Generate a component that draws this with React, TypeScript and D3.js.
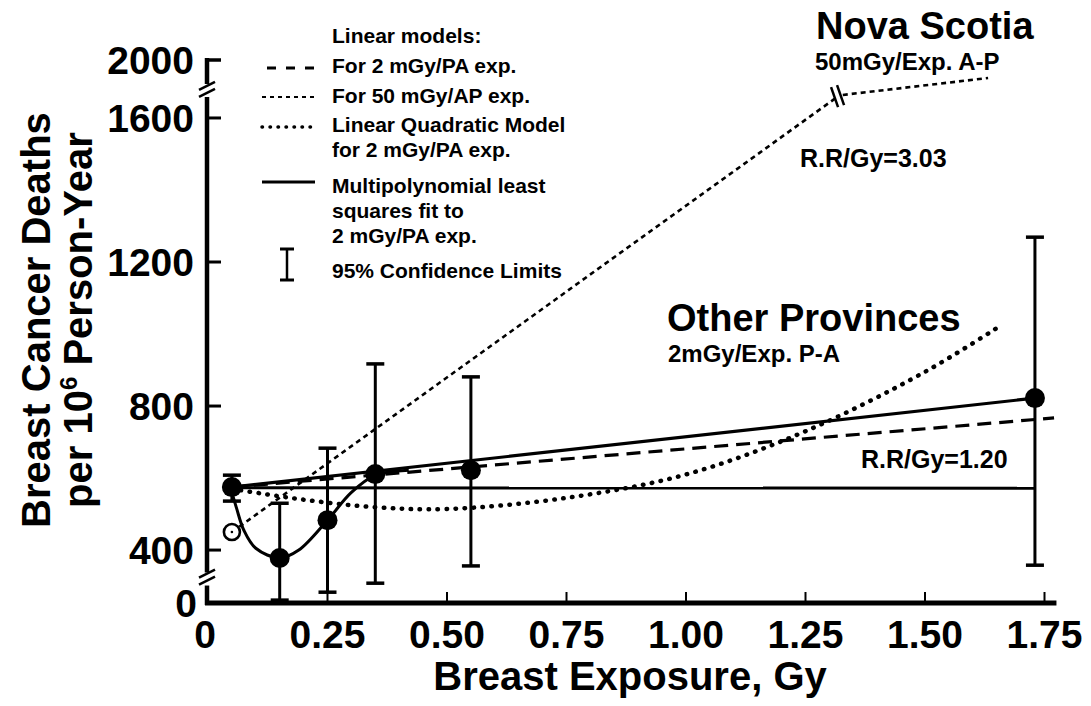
import React from 'react';
import * as d3 from 'd3';

// observed points (filled circles) with 95% limits
const doses = [0.05, 0.15, 0.25, 0.35, 0.55, 1.73];
const deathRates = [575, 378, 483, 611, 622, 822];
const ciLower = [536, 261, 283, 308, 356, 358];
const ciUpper = [608, 530, 683, 917, 881, 1269];

// Nova Scotia unexposed point (open circle)
const novaDose = [0.05];
const novaRate = [450];

// horizontal control line
const controlDoses = [0.05, 1.73];
const controlRates = [573, 572];

// straight solid line through the points
const solidFitDoses = [0.05, 1.73];
const solidFitRates = [575, 822];

// linear model, 2 mGy/PA exp.
const lin2Doses = [0.05, 1.77];
const lin2Rates = [575, 767];

// linear model, 50 mGy/AP exp. (broken near the top)
const lin50Doses = [0.05, 1.316];
const lin50Rates = [450, 1658];
const lin50UpperDoses = [1.328, 1.632];
const lin50UpperRates = [1664, 1711];

// linear quadratic model
const lqDoses = [0.05, 0.2, 0.35, 0.5, 0.75, 1.0, 1.25, 1.5, 1.66];
const lqRates = [570, 540, 519, 514, 545, 610, 730, 895, 1025];

// multipolynomial least squares fit
const polyDoses = [0.05, 0.06, 0.075, 0.1, 0.15, 0.19, 0.25, 0.3, 0.35, 0.42];
const polyRates = [560, 515, 455, 405, 378, 400, 483, 560, 608, 622];

const xTicks = [0, 0.25, 0.5, 0.75, 1.0, 1.25, 1.5, 1.75];
const xTickLabels = ['0', '0.25', '0.50', '0.75', '1.00', '1.25', '1.50', '1.75'];
const yTicks = [400, 800, 1200, 1600];
const yBreakLabels = ['0', '2000'];

const W = 1091;
const H = 706;
const FONT = '"Liberation Sans", Arial, Helvetica, sans-serif';

export default function App() {
  const x = d3.scaleLinear().domain([0, 1.75]).range([208, 1044.5]);
  const y = d3.scaleLinear().domain([253, 1761]).range([603, 60]);

  const pts = (xs: number[], ys: number[]) => xs.map((d, i) => [d, ys[i]] as [number, number]);
  const straight = d3.line<[number, number]>().x(d => x(d[0])).y(d => y(d[1]));
  const smooth = d3
    .line<[number, number]>()
    .x(d => x(d[0]))
    .y(d => y(d[1]))
    .curve(d3.curveCatmullRom.alpha(0.5));

  const axisX = x(0) - 1;
  const yBottom = y.range()[0];
  const yTop = y.range()[1];
  const topBreak = (yTop + y(1600)) / 2;
  const lowBreak = (y(400) + yBottom) / 2;
  const xEnd = x(1.775);

  const breakMark = (cx: number, cy: number, key: string) => (
    <g key={key} stroke="#000" strokeWidth={2.5}>
      <line x1={cx - 8} y1={cy + 1} x2={cx + 8} y2={cy - 7} />
      <line x1={cx - 8} y1={cy + 8} x2={cx + 8} y2={cy} />
    </g>
  );

  const brk50x = x(lin50Doses[1]);
  const brk50y = y(lin50Rates[1]);

  const legendX = 332;
  const sampleX0 = 262;
  const sampleX1 = 315;

  return (
    <div style={{ position: 'absolute', left: 0, top: 0 }}>
      <svg width={W} height={H} style={{ display: 'block', background: '#fff' }} fontFamily={FONT} fontWeight="bold">
        {/* y axis with breaks */}
        <g stroke="#000" strokeWidth={4.5} fill="none">
          <line x1={axisX} y1={yTop - 2} x2={axisX} y2={topBreak - 5} />
          <line x1={axisX} y1={topBreak + 8} x2={axisX} y2={lowBreak - 4} />
          <line x1={axisX} y1={lowBreak + 9} x2={axisX} y2={yBottom + 2} />
          <line x1={axisX - 2} y1={yTop} x2={axisX + 14} y2={yTop} strokeWidth={3.5} />
          {yTicks.map(t => (
            <line key={t} x1={axisX} y1={y(t)} x2={axisX + 14} y2={y(t)} strokeWidth={3} />
          ))}
        </g>
        {breakMark(axisX, topBreak, 'tb')}
        {breakMark(axisX, lowBreak, 'lb')}

        {/* x axis */}
        <g stroke="#000" fill="none">
          <line x1={axisX - 2} y1={yBottom} x2={xEnd} y2={yBottom} strokeWidth={5} />
          {xTicks.slice(1).map(t => (
            <line key={t} x1={x(t)} y1={yBottom} x2={x(t)} y2={yBottom - 11} strokeWidth={2} />
          ))}
        </g>

        {/* tick labels */}
        <g fontSize={39} fill="#000">
          {yTicks.map(t => (
            <text key={t} x={194} y={y(t) + 14} textAnchor="end">
              {t}
            </text>
          ))}
          <text x={197} y={yBottom + 14} textAnchor="end">{yBreakLabels[0]}</text>
          <text x={194} y={yTop + 14} textAnchor="end">{yBreakLabels[1]}</text>
          {xTicks.map((t, i) => (
            <text key={t} x={i === 0 ? x(t) - 3 : x(t)} y={648} textAnchor="middle">
              {xTickLabels[i]}
            </text>
          ))}
        </g>

        {/* axis titles */}
        <text x={630} y={690} textAnchor="middle" fontSize={40}>
          Breast Exposure, Gy
        </text>
        <g fontSize={40} textAnchor="middle">
          <text transform="translate(50,320) rotate(-90)">Breast Cancer Deaths</text>
          <text transform="translate(92,320) rotate(-90)">
            per 10<tspan fontSize={24} dy={-15}>6</tspan>
            <tspan dy={15}> Person-Year</tspan>
          </text>
        </g>

        {/* model lines */}
        <g fill="none" stroke="#000">
          <path d={straight(pts(controlDoses, controlRates)) || ''} strokeWidth={3} />
          <path d={straight(pts(solidFitDoses, solidFitRates)) || ''} strokeWidth={3.2} />
          <path d={straight(pts(lin2Doses, lin2Rates)) || ''} strokeWidth={3.2} strokeDasharray="14 8" />
          <path d={straight(pts(lin50Doses, lin50Rates)) || ''} strokeWidth={2.6} strokeDasharray="5 4" />
          <path d={straight(pts(lin50UpperDoses, lin50UpperRates)) || ''} strokeWidth={2.6} strokeDasharray="5 4" />
          <path d={smooth(pts(lqDoses, lqRates)) || ''} strokeWidth={4.5} strokeDasharray="0.5 8.5" strokeLinecap="round" />
          <path d={smooth(pts(polyDoses, polyRates)) || ''} strokeWidth={3} />
          <g strokeWidth={2.5}>
            <line x1={brk50x - 6} y1={brk50y - 10} x2={brk50x + 1} y2={brk50y + 10} />
            <line x1={brk50x} y1={brk50y - 12} x2={brk50x + 7} y2={brk50y + 8} />
          </g>
        </g>

        {/* error bars */}
        <g stroke="#000" fill="none">
          {doses.map((d, i) => (
            <g key={d}>
              <line x1={x(d)} x2={x(d)} y1={y(ciLower[i])} y2={y(ciUpper[i])} strokeWidth={3} />
              <line x1={x(d) - 9} x2={x(d) + 9} y1={y(ciLower[i])} y2={y(ciLower[i])} strokeWidth={3.5} />
              <line x1={x(d) - 9} x2={x(d) + 9} y1={y(ciUpper[i])} y2={y(ciUpper[i])} strokeWidth={3.5} />
            </g>
          ))}
        </g>

        {/* points */}
        {doses.map((d, i) => (
          <circle key={d} cx={x(d)} cy={y(deathRates[i])} r={10} fill="#000" />
        ))}
        {novaDose.map((d, i) => (
          <g key={d}>
            <circle cx={x(d)} cy={y(novaRate[i])} r={8} fill="#fff" stroke="#000" strokeWidth={2.6} />
            <circle cx={x(d)} cy={y(novaRate[i])} r={1.3} fill="#000" />
          </g>
        ))}

        {/* legend */}
        <g fontSize={21} fill="#000">
          <text x={legendX} y={43}>Linear models:</text>
          <text x={legendX} y={73}>For 2 mGy/PA exp.</text>
          <text x={legendX} y={103}>For 50 mGy/AP exp.</text>
          <text x={legendX} y={132}>Linear Quadratic Model</text>
          <text x={legendX} y={157}>for 2 mGy/PA exp.</text>
          <text x={legendX} y={193}>Multipolynomial least</text>
          <text x={legendX} y={218}>squares fit to</text>
          <text x={legendX} y={243}>2 mGy/PA exp.</text>
          <text x={legendX} y={278}>95% Confidence Limits</text>
        </g>
        <g stroke="#000" fill="none">
          <line x1={sampleX0 + 5} x2={sampleX1} y1={68} y2={68} strokeWidth={3} strokeDasharray="9 10" />
          <line x1={sampleX0} x2={sampleX1} y1={97} y2={97} strokeWidth={2.2} strokeDasharray="4 4" />
          <line x1={sampleX0} x2={sampleX1} y1={127} y2={127} strokeWidth={3.5} strokeDasharray="0.5 7.5" strokeLinecap="round" />
          <line x1={sampleX0} x2={sampleX1} y1={182} y2={182} strokeWidth={3} />
          <line x1={287} x2={287} y1={249} y2={280} strokeWidth={2.5} />
          <line x1={280} x2={294} y1={249} y2={249} strokeWidth={3} />
          <line x1={280} x2={294} y1={280} y2={280} strokeWidth={3} />
        </g>

        {/* annotations */}
        <g fill="#000">
          <text x={816} y={39} fontSize={38}>Nova Scotia</text>
          <text x={815} y={70} fontSize={24}>50mGy/Exp. A-P</text>
          <text x={800} y={167} fontSize={25}>R.R/Gy=3.03</text>
          <text x={667} y={331} fontSize={38}>Other Provinces</text>
          <text x={668} y={362} fontSize={24}>2mGy/Exp. P-A</text>
          <text x={861} y={468} fontSize={25}>R.R/Gy=1.20</text>
        </g>
      </svg>
    </div>
  );
}
